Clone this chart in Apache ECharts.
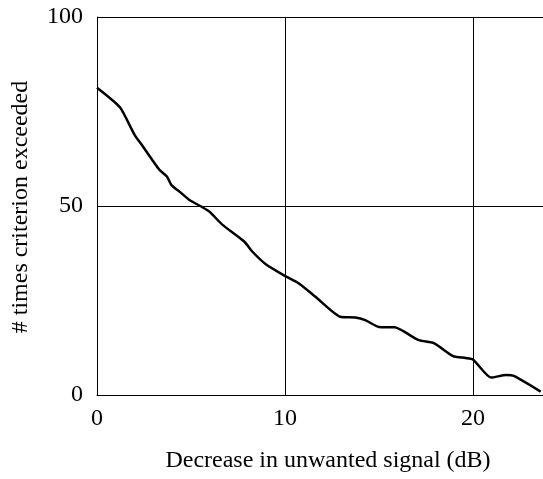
<!DOCTYPE html>
<html>
<head>
<meta charset="utf-8">
<script src="https://cdn.jsdelivr.net/npm/echarts@6/dist/echarts.min.js"></script>
<style>
  html, body { margin: 0; padding: 0; background: #fff; overflow: hidden; width: 543px; height: 479px; }
  /* the plot runs on past the right edge of the window, so the chart is wider than the page */
  #chart { width: 664px; height: 479px; }
</style>
</head>
<body>
<div id="chart"></div>
<script>
// Decrease in unwanted signal (dB)
const dbDecrease = [0, 1.22, 2.0, 2.45, 3.33, 3.72, 3.95, 4.39, 4.92, 5.63, 5.98, 6.68, 7.83, 8.27,
  8.98, 10.0, 10.74, 11.62, 12.94, 13.74, 14.27, 15.0, 15.84, 17.12, 17.92, 18.94, 19.6, 20.0,
  20.97, 21.76, 22.2, 23.6];
// # times criterion exceeded
const timesExceeded = [81.3, 76.1, 68.8, 65.7, 59.5, 57.8, 55.6, 53.8, 51.6, 49.6, 48.5, 45.0, 40.6, 37.9,
  34.6, 31.5, 29.5, 26.0, 20.7, 20.5, 19.8, 18.0, 17.9, 14.5, 13.7, 10.3, 9.8, 9.4,
  4.6, 5.3, 5.0, 0.9];

const xTicks = [0, 10, 20];
const yTicks = [0, 50, 100];

const points = dbDecrease.map((x, i) => [x, timesExceeded[i]]);

const font = 'Liberation Serif';
const chart = echarts.init(document.getElementById('chart'));

chart.setOption({
  animation: false,
  backgroundColor: '#fff',
  grid: { left: 97, top: 17, right: 0, bottom: 84 },
  xAxis: {
    type: 'value',
    min: 0,
    max: 30,
    interval: 10,
    axisLine: { show: true, lineStyle: { color: '#000', width: 1 } },
    axisTick: { show: false },
    splitLine: { show: true, lineStyle: { color: '#000', width: 1 } },
    axisLabel: {
      color: '#000', fontFamily: font, fontSize: 24, margin: 12,
      formatter: v => (xTicks.includes(v) ? String(v) : '')
    }
  },
  yAxis: {
    type: 'value',
    min: 0,
    max: 100,
    interval: 50,
    axisLine: { show: true, lineStyle: { color: '#000', width: 1 } },
    axisTick: { show: false },
    splitLine: { show: true, lineStyle: { color: '#000', width: 1 } },
    axisLabel: {
      color: '#000', fontFamily: font, fontSize: 24, margin: 14,
      formatter: v => (yTicks.includes(v) ? String(v) : '')
    }
  },
  graphic: [
    {
      type: 'text',
      x: 328, y: 461,
      style: {
        text: 'Decrease in unwanted signal (dB)',
        fill: '#000', font: '24px "Liberation Serif"',
        textAlign: 'center', textVerticalAlign: 'middle'
      }
    },
    {
      type: 'text',
      x: 21, y: 207,
      rotation: Math.PI / 2,
      style: {
        text: '# times criterion exceeded',
        fill: '#000', font: '24px "Liberation Serif"',
        textAlign: 'center', textVerticalAlign: 'middle'
      }
    }
  ],
  series: [{
    type: 'line',
    data: points,
    showSymbol: false,
    smooth: 0.2,
    lineStyle: { color: '#000', width: 2.5 }
  }]
});
</script>
</body>
</html>
